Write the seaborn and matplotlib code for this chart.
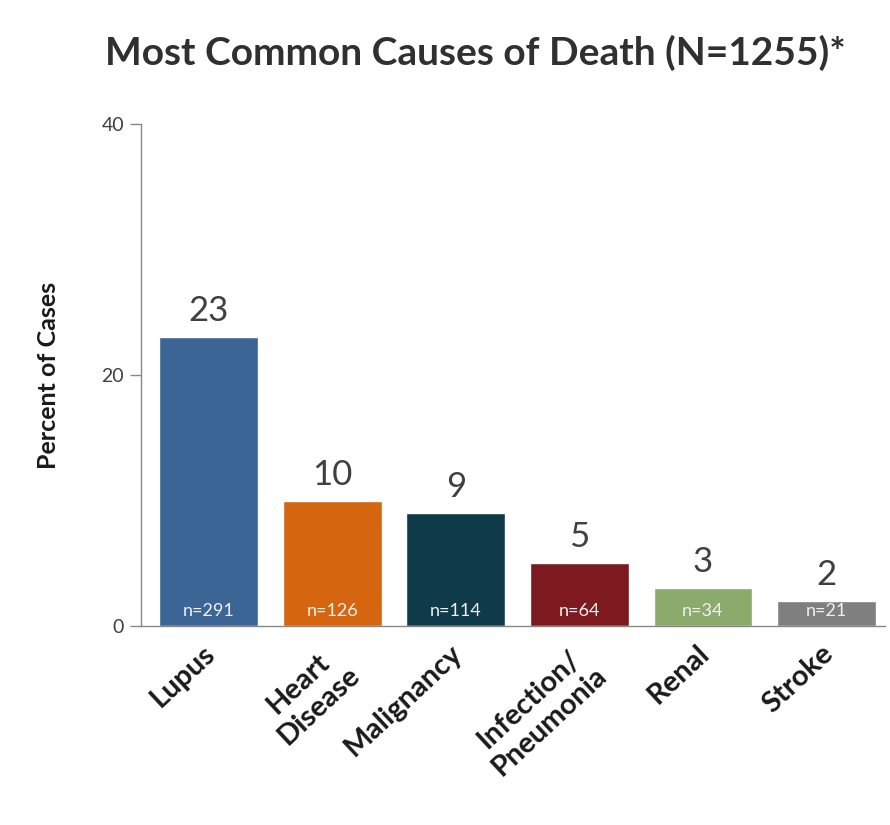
import matplotlib
matplotlib.use("Agg")
import matplotlib.pyplot as plt
import matplotlib.transforms as mtransforms
import seaborn as sns
import pandas as pd

# Causes of death and their share of cases
causes = ["Lupus", "Heart\nDisease", "Malignancy", "Infection/\nPneumonia", "Renal", "Stroke"]
percent = [23, 10, 9, 5, 3, 2]
counts = [291, 126, 114, 64, 34, 21]
bar_colors = ["#3B6594", "#D5660F", "#0E3A4A", "#7D1A1F", "#8BAA6B", "#7F7F7F"]
y_ticks = [0, 20, 40]

sns.set_theme(style="white")
plt.rcParams["font.family"] = ["Lato", "DejaVu Sans"]

df = pd.DataFrame({"cause": causes, "percent": percent})

fig = plt.figure(figsize=(8.9, 8.25), dpi=100)
ax = fig.add_axes([0.158, 0.241, 0.836, 0.609])

sns.barplot(data=df, x="cause", y="percent", hue="cause", palette=bar_colors,
            legend=False, width=0.8, saturation=1, ax=ax)

ax.set_ylim(0, 40)
ax.set_xlim(-0.55, 5.47)
ax.set_yticks(y_ticks)
ax.set_yticklabels([str(t) for t in y_ticks], fontsize=14, color="#404040")
ax.tick_params(axis="y", which="major", length=8, width=1, color="#888888",
               left=True, pad=4)
ax.tick_params(axis="x", length=0, pad=10)

for s in ["top", "right"]:
    ax.spines[s].set_visible(False)
ax.spines["left"].set_color("#888888")
ax.spines["bottom"].set_color("#888888")
ax.spines["left"].set_linewidth(1)
ax.spines["bottom"].set_linewidth(1)

ax.set_xticks(range(len(causes)))
ax.set_xticklabels(causes, rotation=43, ha="right", rotation_mode="anchor",
                   fontsize=21, fontweight="bold", color="#1a1a1a",
                   multialignment="center", linespacing=1.2)
# nudge the category labels slightly to the left
shift = mtransforms.ScaledTranslation(-6 / 100, 0, fig.dpi_scale_trans)
for lbl in ax.get_xticklabels():
    lbl.set_transform(lbl.get_transform() + shift)
ax.set_xlabel("")
ax.set_ylabel("Percent of Cases", fontsize=18, fontweight="bold",
              color="#1a1a1a", labelpad=30)

for patch, val, n in zip(ax.patches, percent, counts):
    cx = patch.get_x() + patch.get_width() / 2
    ax.text(cx, val + 0.8, str(val), ha="center", va="bottom",
            fontsize=25, color="#404040")
    ax.text(cx, 0.6, f"n={n}", ha="center", va="bottom",
            fontsize=13, color="#f0f0f0")

fig.suptitle("Most Common Causes of Death (N=1255)*", x=0.534, y=0.958,
             fontsize=28, fontweight="bold", color="#303030")

fig.savefig("out.png", dpi=100, facecolor="white")
